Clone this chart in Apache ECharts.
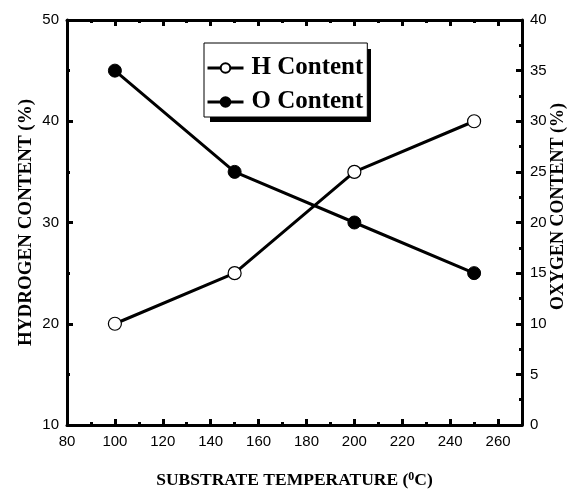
<!DOCTYPE html>
<html>
<head>
<meta charset="utf-8">
<script src="https://cdn.jsdelivr.net/npm/echarts@6/dist/echarts.min.js"></script>
<style>
html,body{margin:0;padding:0;background:#fff;}
#chart{width:573px;height:491px;}
</style>
</head>
<body>
<div id="chart"></div>
<script>
const temperatures = [100, 150, 200, 250];
const hContent = [20, 25, 35, 40];
const oContent = [35, 25, 20, 15];
const seriesNames = ['H Content', 'O Content'];
const xTitle = 'SUBSTRATE TEMPERATURE ({sup|0}C)';
const yLeftTitle = 'HYDROGEN CONTENT (%)';
const yRightTitle = 'OXYGEN CONTENT (%)';

const chart = echarts.init(document.getElementById('chart'), null, {renderer: 'canvas'});

const tickFont = {fontFamily: 'Liberation Sans', fontSize: 15, color: '#000'};
const serif = 'Liberation Serif';
const axisLine = {show: true, onZero: false, lineStyle: {color: '#000', width: 3}};
const axisTick = {show: true, inside: true, length: 6, lineStyle: {color: '#000', width: 3}};
const minorTick = {show: true, splitNumber: 2, length: 3, lineStyle: {color: '#000', width: 3}};

function pairs(xs, ys) { return xs.map((x, i) => [x, ys[i]]); }

chart.setOption({
  animation: false,
  backgroundColor: '#fff',
  grid: {left: 67, right: 51, top: 20, bottom: 66, containLabel: false, outerBoundsMode: 'none'},
  graphic: [{
    type: 'rect', z: 1, silent: true,
    shape: {x: 210, y: 49, width: 161, height: 73},
    style: {fill: '#000'}
  }],
  legend: {
    orient: 'vertical',
    left: 204, top: 43,
    padding: [10, 4, 0, 2],
    itemGap: 4,
    itemWidth: 36, itemHeight: 12,
    backgroundColor: '#fff',
    borderColor: '#000', borderWidth: 1,
    z: 5,
    lineStyle: {width: 3, color: '#000'},
    textStyle: {fontFamily: serif, fontWeight: 'bold', fontSize: 25, color: '#000', lineHeight: 30, padding: [0, 0, 0, 3]},
    data: seriesNames
  },
  xAxis: [
    {
      type: 'value', min: 80, max: 270, interval: 20, position: 'bottom',
      name: xTitle, nameLocation: 'middle', nameGap: 46, nameMoveOverlap: false,
      nameTextStyle: {
        fontFamily: serif, fontWeight: 'bold', fontSize: 17.5, color: '#000',
        rich: {sup: {fontFamily: serif, fontWeight: 'bold', fontSize: 12, verticalAlign: 'top', lineHeight: 12, color: '#000'}}
      },
      axisLine: axisLine, axisTick: axisTick, minorTick: minorTick,
      axisLabel: Object.assign({margin: 9, showMaxLabel: false}, tickFont),
      splitLine: {show: false}
    },
    {
      type: 'value', min: 80, max: 270, interval: 20, position: 'top',
      axisLine: axisLine, axisTick: axisTick, minorTick: minorTick,
      axisLabel: {show: false}, splitLine: {show: false}
    }
  ],
  yAxis: [
    {
      type: 'value', min: 10, max: 50, interval: 10, position: 'left',
      name: yLeftTitle, nameLocation: 'middle', nameGap: 31, nameMoveOverlap: false,
      nameTextStyle: {fontFamily: serif, fontWeight: 'bold', fontSize: 19, color: '#000'},
      axisLine: axisLine, axisTick: axisTick, minorTick: minorTick,
      axisLabel: Object.assign({margin: 8}, tickFont),
      splitLine: {show: false}
    },
    {
      type: 'value', min: 0, max: 40, interval: 5, position: 'right',
      name: yRightTitle, nameLocation: 'middle', nameGap: 27, nameMoveOverlap: false,
      nameTextStyle: {fontFamily: serif, fontWeight: 'bold', fontSize: 18, color: '#000', padding: [0, 0, 0, 32]},
      axisLine: axisLine, axisTick: axisTick, minorTick: minorTick,
      axisLabel: Object.assign({margin: 8}, tickFont),
      splitLine: {show: false}
    }
  ],
  series: [
    {
      name: seriesNames[0], type: 'line', xAxisIndex: 0, yAxisIndex: 0,
      data: pairs(temperatures, hContent),
      symbol: 'circle', symbolSize: 13,
      lineStyle: {color: '#000', width: 3},
      itemStyle: {color: '#fff', borderColor: '#000', borderWidth: 1.2},
      z: 3
    },
    {
      name: seriesNames[1], type: 'line', xAxisIndex: 0, yAxisIndex: 1,
      data: pairs(temperatures, oContent),
      symbol: 'circle', symbolSize: 13,
      lineStyle: {color: '#000', width: 3},
      itemStyle: {color: '#000', borderColor: '#000', borderWidth: 1},
      z: 3
    }
  ]
});
</script>
</body>
</html>
